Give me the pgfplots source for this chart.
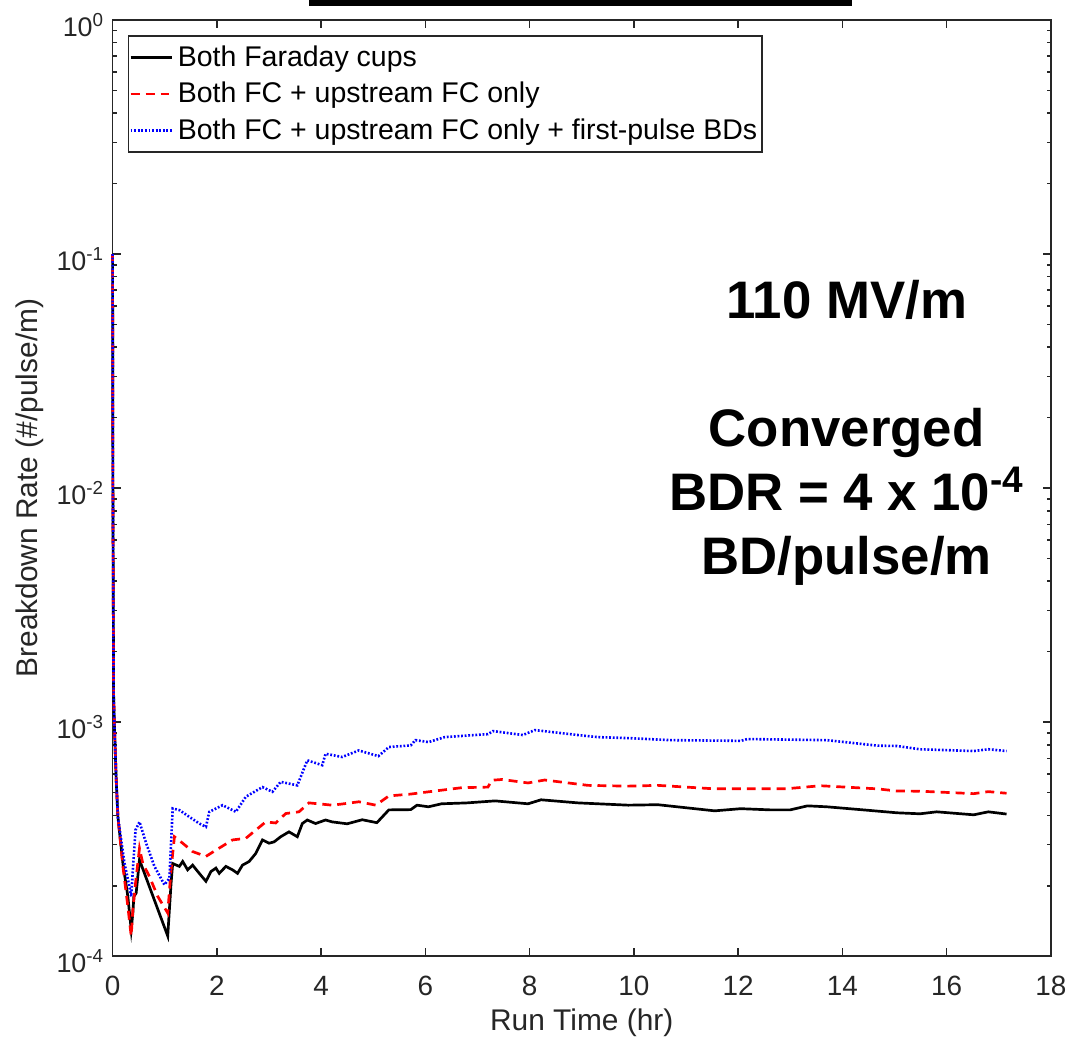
\documentclass[border=0pt]{standalone}
\usepackage{fontspec}
\setmainfont{Liberation Sans}
\usepackage{pgfplots}
\pgfplotsset{compat=1.18}
\definecolor{axgray}{rgb}{0.15,0.15,0.15}
\begin{document}
\begin{tikzpicture}
\begin{axis}[
  scale only axis, width=471pt, height=470pt,
  clip=false,
  xmin=0, xmax=18, ymin=1e-4, ymax=1,
  ymode=log,
  xtick={0,2,...,18},
  ytick={1e-4,1e-3,1e-2,1e-1,1},
  yticklabels={10\textsuperscript{-4},10\textsuperscript{-3},10\textsuperscript{-2},10\textsuperscript{-1},10\textsuperscript{0}},
  tick align=inside,
  major tick length=4pt, minor tick length=2pt,
  axis line style={draw=axgray, line width=0.8pt},
  every tick/.style={axgray, line width=0.8pt},
  tick label style={text=axgray},
  /pgf/number format/assume math mode=true,
  xticklabel style={font=\fontsize{14}{16}\selectfont, yshift=-6.5pt},
  yticklabel style={font=\fontsize{13.5}{15}\selectfont, yshift=-2.5pt, xshift=-0.7pt},
  xlabel={Run Time (hr)},
  ylabel={Breakdown Rate (\#/pulse/m)},
  label style={font=\fontsize{15}{18}\selectfont, text=axgray},
  xlabel style={at={(axis description cs:0.5,-0.0713)}, anchor=center},
  ylabel style={at={(axis description cs:-0.0881,0.5)}, anchor=center},
  legend style={at={(rel axis cs:0.0159,0.984)}, anchor=north west, draw=axgray, line width=0.8pt,
    font=\fontsize{14.3}{16}\selectfont, inner xsep=0.5pt, inner ysep=3pt, row sep=2.4pt,
    cells={anchor=west}, fill=white},
  legend image code/.code={\draw[#1] (0pt,0pt) -- (21pt,0pt);},
]
\addplot[black, line width=1.35pt] coordinates {
(0,0.1)(0.006,0.01)(0.02,1.3e-3)(0.038,9.2e-4)(0.07,5.65e-4)(0.102,3.94e-4)(0.198,2.49e-4)(0.293,1.8e-4)(0.357,1.3e-4)(0.389,1.53e-4)(0.408,1.8e-4)(0.452,1.86e-4)(0.516,2.58e-4)(1.058,1.22e-4)(1.122,2.05e-4)(1.153,2.49e-4)(1.281,2.42e-4)(1.345,2.54e-4)(1.44,2.34e-4)(1.536,2.45e-4)(1.663,2.26e-4)(1.791,2.09e-4)(1.887,2.3e-4)(1.982,2.38e-4)(2.046,2.26e-4)(2.173,2.42e-4)(2.301,2.34e-4)(2.397,2.26e-4)(2.492,2.45e-4)(2.62,2.54e-4)(2.747,2.75e-4)(2.875,3.14e-4)(3.002,3.04e-4)(3.098,3.08e-4)(3.225,3.24e-4)(3.384,3.4e-4)(3.544,3.24e-4)(3.64,3.69e-4)(3.735,3.82e-4)(3.894,3.69e-4)(4.086,3.82e-4)(4.213,3.75e-4)(4.5,3.68e-4)(4.79,3.83e-4)(5.07,3.72e-4)(5.3,4.22e-4)(5.72,4.23e-4)(5.84,4.42e-4)(6.06,4.35e-4)(6.31,4.48e-4)(6.8,4.52e-4)(7.34,4.61e-4)(7.97,4.48e-4)(8.22,4.66e-4)(8.93,4.52e-4)(9.89,4.42e-4)(10.46,4.44e-4)(11.55,4.18e-4)(12.05,4.27e-4)(12.62,4.22e-4)(13.0,4.22e-4)(13.33,4.39e-4)(13.7,4.35e-4)(14.4,4.22e-4)(15.05,4.1e-4)(15.49,4.06e-4)(15.81,4.14e-4)(16.52,4.02e-4)(16.8,4.14e-4)(17.15,4.05e-4)
};
\addlegendentry{Both Faraday cups}
\addplot[red, line width=1.35pt, dash pattern=on 4.5pt off 3pt] coordinates {
(0,0.1)(0.006,0.01)(0.02,1.3e-3)(0.038,9.2e-4)(0.07,5.65e-4)(0.102,3.94e-4)(0.198,2.42e-4)(0.293,1.63e-4)(0.357,1.22e-4)(0.389,1.58e-4)(0.44,2.05e-4)(0.516,2.89e-4)(0.58,2.49e-4)(0.707,2.19e-4)(0.867,1.8e-4)(1.058,1.53e-4)(1.122,2.34e-4)(1.186,3.24e-4)(1.345,3.04e-4)(1.536,2.8e-4)(1.791,2.67e-4)(1.982,2.84e-4)(2.301,3.14e-4)(2.556,3.19e-4)(2.747,3.46e-4)(2.939,3.75e-4)(3.13,3.71e-4)(3.321,4.07e-4)(3.576,4.14e-4)(3.767,4.52e-4)(4.213,4.42e-4)(4.4,4.47e-4)(4.723,4.57e-4)(5.05,4.42e-4)(5.3,4.84e-4)(5.72,4.93e-4)(6.06,5.04e-4)(6.7,5.25e-4)(7.2,5.28e-4)(7.28,5.65e-4)(7.47,5.69e-4)(7.97,5.5e-4)(8.29,5.66e-4)(9.12,5.37e-4)(9.89,5.33e-4)(10.46,5.37e-4)(11.55,5.19e-4)(12.9,5.19e-4)(13.58,5.35e-4)(14.67,5.19e-4)(15.05,5.08e-4)(15.5,5.07e-4)(16.52,4.95e-4)(16.8,5.05e-4)(17.15,4.97e-4)
};
\addlegendentry{Both FC + upstream FC only}
\addplot[blue, line width=1.3pt, dash pattern=on 0.9pt off 0.9pt] coordinates {
(0,0.1)(0.006,0.01)(0.02,1.3e-3)(0.038,9.2e-4)(0.07,5.65e-4)(0.102,3.94e-4)(0.229,2.49e-4)(0.31,2.05e-4)(0.357,1.8e-4)(0.389,2.34e-4)(0.44,3.46e-4)(0.516,3.75e-4)(0.644,3.04e-4)(0.803,2.42e-4)(0.994,2.02e-4)(1.09,2.15e-4)(1.153,4.28e-4)(1.281,4.21e-4)(1.472,3.94e-4)(1.663,3.69e-4)(1.791,3.57e-4)(1.855,4.14e-4)(2.11,4.42e-4)(2.365,4.14e-4)(2.556,4.8e-4)(2.875,5.28e-4)(3.066,5.04e-4)(3.225,5.56e-4)(3.544,5.37e-4)(3.735,6.87e-4)(4.022,6.55e-4)(4.086,7.33e-4)(4.404,7.1e-4)(4.723,7.57e-4)(5.1,7.16e-4)(5.3,7.83e-4)(5.72,7.96e-4)(5.81,8.38e-4)(6.06,8.22e-4)(6.37,8.63e-4)(7.2,8.89e-4)(7.3,9.16e-4)(7.87,8.81e-4)(8.1,9.25e-4)(8.93,8.81e-4)(9.31,8.63e-4)(9.89,8.55e-4)(10.7,8.38e-4)(12.05,8.32e-4)(12.18,8.47e-4)(13.7,8.38e-4)(14.67,7.94e-4)(15.05,7.91e-4)(15.49,7.66e-4)(16.52,7.53e-4)(16.8,7.66e-4)(17.15,7.53e-4)
};
\addlegendentry{Both FC + upstream FC only + first-pulse BDs}
\node[anchor=base, font=\fontsize{26.5}{30}\selectfont\bfseries] at (rel axis cs:0.7824,0.6809) {110 MV/m};
\node[anchor=base, font=\fontsize{26.5}{30}\selectfont\bfseries] at (rel axis cs:0.7824,0.5447) {Converged};
\node[anchor=base, font=\fontsize{26.5}{30}\selectfont\bfseries] at (rel axis cs:0.7824,0.4766) {BDR = 4 x 10\textsuperscript{-4}};
\node[anchor=base, font=\fontsize{26.5}{30}\selectfont\bfseries] at (rel axis cs:0.7824,0.4074) {BD/pulse/m};
\fill[black] (rel axis cs:0.2091,1.0149) rectangle (rel axis cs:0.7877,1.0213);
\path (rel axis cs:-0.12,-0.0904) rectangle (rel axis cs:1.0191,1.0213);
\end{axis}
\end{tikzpicture}
\end{document}
